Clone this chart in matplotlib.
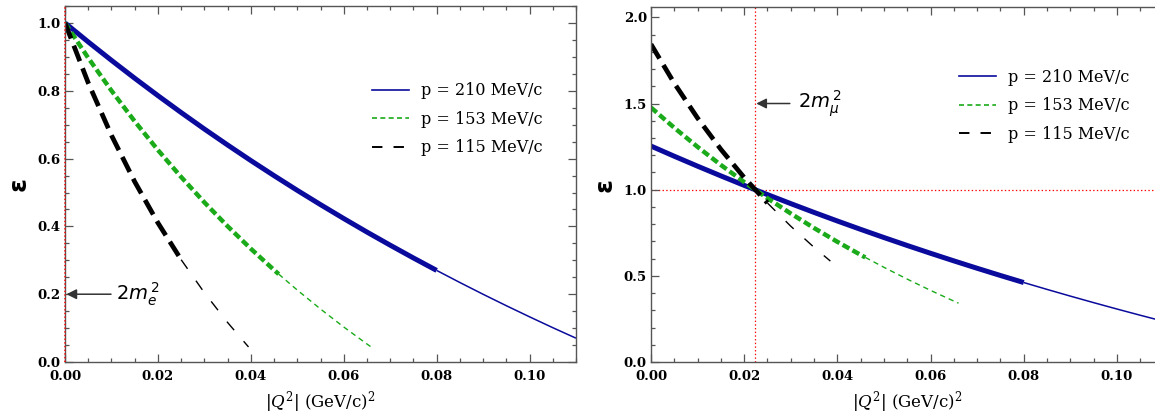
import matplotlib
matplotlib.use('Agg')
import matplotlib.pyplot as plt
from matplotlib.lines import Line2D
from matplotlib.ticker import MultipleLocator, FormatStrFormatter

# |Q^2| values in (GeV/c)^2 and epsilon
labels = ['p = 210 MeV/c', 'p = 153 MeV/c', 'p = 115 MeV/c']

q2_210 = [0.0, 0.005, 0.01, 0.015, 0.02, 0.025, 0.03, 0.035, 0.04, 0.045, 0.05, 0.055,
          0.06, 0.065, 0.07, 0.075, 0.08, 0.085, 0.09, 0.095, 0.1, 0.105, 0.11]
q2_153 = [0.0, 0.005, 0.01, 0.015, 0.02, 0.025, 0.03, 0.035, 0.04, 0.045, 0.046, 0.05,
          0.055, 0.06, 0.065, 0.066]
q2_115_e = [0.0, 0.005, 0.01, 0.015, 0.02, 0.025, 0.03, 0.035, 0.0395]
q2_115_mu = [0.0, 0.005, 0.01, 0.015, 0.02, 0.025, 0.03, 0.035, 0.0385]

# electron scattering (left)
eps_e_210 = [1.0, 0.9441, 0.8898, 0.8370, 0.7857, 0.7358, 0.6872, 0.6401, 0.5942, 0.5497,
             0.5063, 0.4642, 0.4232, 0.3833, 0.3446, 0.3069, 0.2702, 0.2345, 0.1998, 0.1661,
             0.1333, 0.1013, 0.0703]
eps_e_153 = [1.0, 0.8968, 0.8003, 0.7100, 0.6252, 0.5457, 0.4709, 0.4004, 0.3341, 0.2714,
             0.2593, 0.2122, 0.1563, 0.1033, 0.0531, 0.0434]
eps_e_115 = [1.0, 0.8233, 0.6685, 0.5318, 0.4104, 0.3018, 0.2044, 0.1165, 0.0444]

# muon scattering (right)
eps_mu_210 = [1.2532, 1.1941, 1.1364, 1.0801, 1.0251, 0.9715, 0.9192, 0.8681, 0.8183, 0.7697,
              0.7223, 0.6760, 0.6309, 0.5869, 0.5439, 0.5020, 0.4612, 0.4213, 0.3824, 0.3445,
              0.3075, 0.2714, 0.2362]
eps_mu_153 = [1.4769, 1.3593, 1.2483, 1.1434, 1.0443, 0.9505, 0.8617, 0.7775, 0.6975, 0.6216,
              0.6069, 0.5495, 0.4809, 0.4156, 0.3535, 0.3414]
eps_mu_115 = [1.8442, 1.6177, 1.4156, 1.2342, 1.0707, 0.9227, 0.7881, 0.6654, 0.5858]

# end of the accessible range (thick part of each curve)
thick_end = [0.080, 0.046, 0.025]

two_me2 = 0.0000005
two_mmu2 = 0.0223

plt.rcParams['lines.scale_dashes'] = False
plt.rcParams['mathtext.fontset'] = 'dejavuserif'

colors = ['#0a0a9c', '#1aaa1a', 'black']
# (thick style, thin style)
styles = [
    (dict(lw=3.6, ls='-'), dict(lw=1.1, ls='-')),
    (dict(lw=3.2, dashes=(5.5, 2.6)), dict(lw=1.0, dashes=(3.8, 2.9))),
    (dict(lw=3.4, dashes=(12, 5.5)), dict(lw=1.0, dashes=(8, 10.5))),
]
legend_styles = [dict(lw=1.2, ls='-'), dict(lw=1.2, dashes=(3.6, 2.4)), dict(lw=1.4, dashes=(7.5, 8))]

fig = plt.figure(figsize=(11.55, 4.19), dpi=100)
ax1 = fig.add_axes([0.0563, 0.136, 0.4424, 0.8496])
ax2 = fig.add_axes([0.5636, 0.136, 0.4438, 0.8473])


def draw_curves(ax, qs, es):
    for q, e, end, c, (thick, thin) in zip(qs, es, thick_end, colors, styles):
        qa = [x for x in q if x <= end]
        ea = [y for x, y in zip(q, e) if x <= end]
        qb = [x for x in q if x >= end]
        eb = [y for x, y in zip(q, e) if x >= end]
        ax.plot(qb, eb, color=c, solid_capstyle='butt', **thin)
        ax.plot(qa, ea, color=c, solid_capstyle='butt', dash_capstyle='butt', **thick)


def style_axes(ax, ymax, ymaj, ymin, leg_y):
    ax.set_xlim(0, 0.11)
    ax.set_ylim(0, ymax)
    ax.xaxis.set_major_locator(MultipleLocator(0.02))
    ax.xaxis.set_minor_locator(MultipleLocator(0.005))
    ax.yaxis.set_major_locator(MultipleLocator(ymaj))
    ax.yaxis.set_minor_locator(MultipleLocator(ymin))
    ax.xaxis.set_major_formatter(FormatStrFormatter('%.2f'))
    ax.yaxis.set_major_formatter(FormatStrFormatter('%.1f'))
    ax.tick_params(which='both', direction='in', top=True, right=True, color='#555555',
                   width=0.9)
    ax.tick_params(which='major', length=6, pad=3)
    ax.tick_params(axis='x', which='major', pad=6)
    ax.tick_params(which='minor', length=3)
    for lab in ax.get_xticklabels() + ax.get_yticklabels():
        lab.set_fontfamily('DejaVu Serif')
        lab.set_fontweight('bold')
        lab.set_fontsize(9.5)
    for sp in ax.spines.values():
        sp.set_color('#555555')
        sp.set_linewidth(1.0)
    ax.set_xlabel(r'$|Q^2|$ (GeV/c)$^2$', fontsize=12, family='DejaVu Serif', labelpad=4)
    ax.set_ylabel('ε', fontsize=18, fontweight='bold', family='DejaVu Sans', labelpad=5)
    handles = [Line2D([], [], color=c, **s) for c, s in zip(colors, legend_styles)]
    ax.legend(handles, labels, frameon=False, loc='upper left', bbox_to_anchor=(0.585, leg_y),
              prop={'family': 'DejaVu Serif', 'size': 11.5}, handlelength=2.3,
              handletextpad=0.8, labelspacing=0.72, borderpad=0)


# left panel: electrons
draw_curves(ax1, [q2_210, q2_153, q2_115_e], [eps_e_210, eps_e_153, eps_e_115])
style_axes(ax1, 1.05, 0.2, 0.05, 0.808)
ax1.axvline(two_me2, color='red', ls=':', lw=1.1, zorder=5, clip_on=False)
ax1.annotate('', xy=(0.0003, 0.2), xytext=(0.0099, 0.2),
             arrowprops=dict(arrowstyle='-|>', color='#333333', lw=1.1, mutation_scale=15,
                             shrinkA=0, shrinkB=0))
ax1.text(0.0109, 0.2, r'$2m_e^{\,2}$', fontsize=14, va='center', ha='left',
         math_fontfamily='dejavusans')

# right panel: muons
ax2.axvline(two_mmu2, color='red', ls=':', lw=0.9, zorder=1)
ax2.axhline(1.0, color='red', ls=':', lw=0.9, zorder=1)
draw_curves(ax2, [q2_210, q2_153, q2_115_mu], [eps_mu_210, eps_mu_153, eps_mu_115])
style_axes(ax2, 2.06, 0.5, 0.1, 0.848)
ax2.annotate('', xy=(0.0226, 1.5), xytext=(0.0298, 1.5),
             arrowprops=dict(arrowstyle='-|>', color='#333333', lw=1.1, mutation_scale=15,
                             shrinkA=0, shrinkB=0))
ax2.text(0.0316, 1.5, r'$2m_\mu^{\,2}$', fontsize=14, va='center', ha='left',
         math_fontfamily='dejavusans')

fig.savefig('out.png', dpi=100)
